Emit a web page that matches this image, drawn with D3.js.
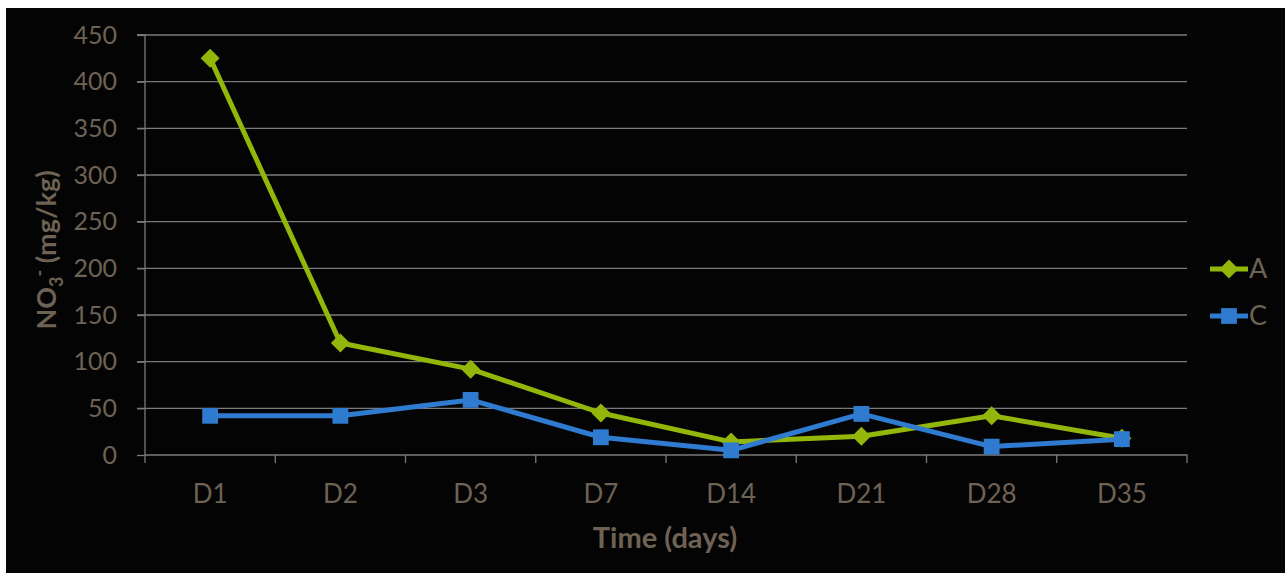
<!DOCTYPE html>
<html><head><meta charset="utf-8">
<script src="https://cdn.jsdelivr.net/npm/d3@7"></script>
<style>body{margin:0;background:#fff;overflow:hidden}svg{display:block}</style>
</head><body>
<svg id="c" width="1285" height="573"></svg>
<script>
const categories = ["D1","D2","D3","D7","D14","D21","D28","D35"];
const seriesA = [425, 120, 92, 45, 14, 20, 42, 18];
const seriesC = [42, 42, 59, 19, 5, 44, 9, 17];
const yTicks = [0,50,100,150,200,250,300,350,400,450];

const svg = d3.select("#c");
svg.append("rect").attr("x",6).attr("y",8).attr("width",1279).attr("height",565).attr("fill","#040404");

const m = {l:145, r:1187, t:35, b:455};
const x = d3.scaleBand().domain(categories).range([m.l, m.r]);
const y = d3.scaleLinear().domain([0,450]).range([m.b, m.t]);
const txt = "#6e6254";
const grid = "#7a7a7a";
const font = "Lato, 'Open Sans', sans-serif";

// gridlines
svg.append("g").selectAll("line").data(yTicks.filter(d=>d>0)).join("line")
  .attr("x1", m.l-8).attr("x2", m.r).attr("y1", d=>y(d)).attr("y2", d=>y(d))
  .attr("stroke", grid).attr("stroke-width",1.3);

// y axis
const ya = svg.append("g").attr("transform",`translate(${m.l},0)`)
  .call(d3.axisLeft(y).tickValues(yTicks).tickSize(8).tickPadding(20));
ya.select(".domain").attr("stroke",grid).attr("stroke-width",1.3).attr("d",`M-8,${m.t}H0V${m.b}`);
ya.selectAll(".tick line").attr("stroke",grid).attr("stroke-width",1.3);
ya.selectAll(".tick text").attr("fill",txt).style("font-family",font).style("font-size","25px");

// x axis
const xa = svg.append("g").attr("transform",`translate(0,${m.b})`)
  .call(d3.axisBottom(x).tickSize(0).tickPadding(30));
xa.select(".domain").attr("stroke",grid).attr("stroke-width",1.3).attr("d",`M${m.l},0H${m.r}V8`);
xa.selectAll(".tick text").attr("fill",txt).style("font-family",font).style("font-size","26px").attr("dy","0.7em");
svg.append("g").selectAll("line").data(categories).join("line")
  .attr("x1", d=>x(d)).attr("x2", d=>x(d)).attr("y1", m.b).attr("y2", m.b+8)
  .attr("stroke",grid).attr("stroke-width",1.3);

// axis titles
svg.append("text").attr("x",665).attr("y",548).attr("text-anchor","middle")
  .attr("fill",txt).style("font-family",font).style("font-weight","bold").style("font-size","29px").text("Time (days)");
const yt = svg.append("text").attr("transform","translate(56,250) rotate(-90)").attr("text-anchor","middle")
  .attr("fill",txt).style("font-family",font).style("font-weight","bold").style("font-size","27px");
yt.append("tspan").text("NO");
yt.append("tspan").attr("dy",7).style("font-size","18px").text("3");
yt.append("tspan").attr("dy",-17).style("font-size","18px").text("-");
yt.append("tspan").attr("dy",10).text(" (mg/kg)");

const cx = d => x(d) + x.bandwidth()/2;
const series = [
  {name:"A", vals:seriesA, color:"#92b70a", shape:d3.symbolDiamond2, size:230},
  {name:"C", vals:seriesC, color:"#2f7bd0", shape:d3.symbolSquare, size:250}
];
const line = d3.line().x(d=>cx(d[0])).y(d=>y(d[1]));
series.forEach(s=>{
  const pts = categories.map((c,i)=>[c,s.vals[i]]);
  svg.append("path").datum(pts).attr("d",line).attr("fill","none")
    .attr("stroke",s.color).attr("stroke-width",5).attr("stroke-linejoin","round");
  svg.append("g").selectAll("path").data(pts).join("path")
    .attr("transform",d=>`translate(${cx(d[0])},${y(d[1])})`)
    .attr("d", d3.symbol().type(s.shape).size(s.size))
    .attr("fill",s.color);
});

// legend
const lg = svg.append("g");
series.forEach((s,i)=>{
  const yy = 269 + i*47;
  lg.append("line").attr("x1",1210).attr("x2",1248).attr("y1",yy).attr("y2",yy).attr("stroke",s.color).attr("stroke-width",5);
  lg.append("path").attr("transform",`translate(1229,${yy})`)
    .attr("d", d3.symbol().type(s.shape).size(s.size)).attr("fill",s.color);
  lg.append("text").attr("x",1249).attr("y",yy+9).attr("fill",txt).style("font-family",font).style("font-size","27px").text(s.name);
});
</script>
</body></html>
